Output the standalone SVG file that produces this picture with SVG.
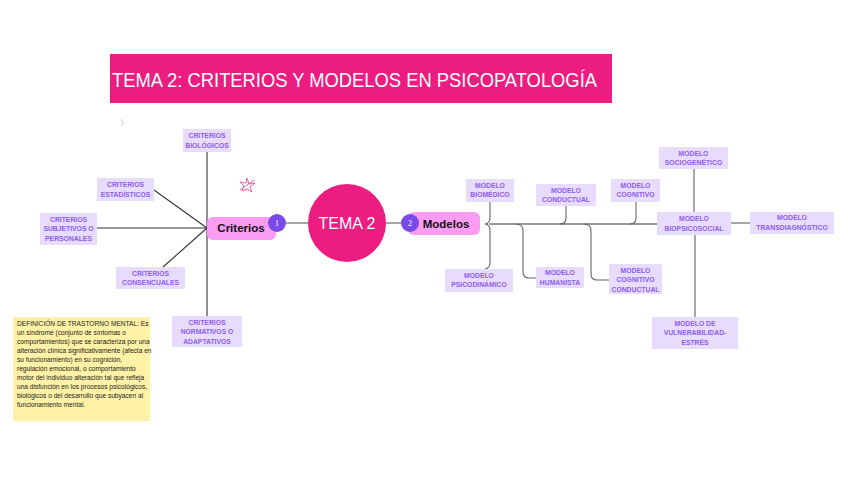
<svg xmlns="http://www.w3.org/2000/svg" width="848" height="477" viewBox="0 0 848 477">
<style>
.box{fill:#e8dcfc}
.bt{font-family:"Liberation Sans",Arial,sans-serif;font-weight:bold;font-size:6.8px;fill:#8d5cf0;text-anchor:middle}
.dk{fill:none;stroke:#333;stroke-width:1.1}
.gr{fill:none;stroke:#666;stroke-width:1.1}
.lg{fill:none;stroke:#8a8a8a;stroke-width:1.5}
.badge{fill:#7a4ae8}
.bn{font-family:"Liberation Serif",serif;font-size:8px;fill:#fff;text-anchor:middle}
.note{font-family:"Liberation Sans",Arial,sans-serif;font-size:6.6px;fill:#222}
</style>
<rect width="848" height="477" fill="#fff"/>
<g id="title">
<rect x="110" y="54" width="502" height="49" fill="#ec1c80"/>
<text x="112" y="87" font-family="Liberation Sans,Arial,sans-serif" font-size="20" fill="#fff" textLength="485" lengthAdjust="spacingAndGlyphs">TEMA 2: CRITERIOS Y MODELOS EN PSICOPATOLOGÍA</text>
</g>
<g id="marks">
<circle cx="122" cy="120" r="0.6" fill="#777"/><circle cx="123" cy="123" r="0.6" fill="#777"/><circle cx="122" cy="125" r="0.5" fill="#999"/>
<path d="M247,178 L249,184 L255,183 L250,187 L252,192 L247,189 L242,191 L244,186 L240,182 L246,183 Z M240,190 L254,180" fill="none" stroke="#f0509a" stroke-width="0.9"/>
</g>
<g id="connectors">
<line class="dk" x1="207" y1="152" x2="207" y2="316"/>
<line class="dk" x1="207" y1="228" x2="154" y2="190"/>
<line class="dk" x1="207" y1="228" x2="97" y2="228"/>
<line class="dk" x1="207" y1="228" x2="163" y2="267"/>
<line class="lg" x1="286" y1="223" x2="308" y2="223"/>
<line class="lg" x1="386" y1="223" x2="402" y2="223"/>
<line class="dk" x1="489" y1="224" x2="657" y2="224"/>
<path class="gr" d="M490,202 V218 Q490,223 485,224 Q490,225 490,230 V263 Q490,268 485,269"/>
<path class="gr" d="M566,206 V218 Q566,224 560,224"/>
<path class="gr" d="M636,202 V218 Q636,224 630,224"/>
<path class="gr" d="M516,224 Q523,224 523,231 V272 Q523,278 529,278 H536"/>
<path class="gr" d="M584,224 Q591,224 591,231 V274 Q591,280 597,280 H609"/>
<line class="lg" x1="694" y1="169" x2="694" y2="212"/>
<line class="lg" x1="731" y1="223" x2="750" y2="223"/>
<line class="lg" x1="695" y1="235" x2="695" y2="317"/>
</g>
<g id="tema2">
<circle cx="347" cy="223" r="39" fill="#ec1c80"/>
<text x="347" y="229" font-family="Liberation Sans,Arial,sans-serif" font-size="16" fill="#fff" text-anchor="middle">TEMA 2</text>
</g>
<g id="criterios">
<rect x="207" y="217" width="69" height="23" rx="6" fill="#fa9cf2"/>
<text x="241" y="232" font-family="Liberation Sans,Arial,sans-serif" font-weight="bold" font-size="11.5" fill="#111" text-anchor="middle">Criterios</text>
<circle class="badge" cx="277" cy="223" r="9"/>
<text class="bn" x="277" y="226">1</text>
</g>
<g id="modelos">
<rect x="408" y="212" width="72" height="23" rx="6" fill="#fa9cf2"/>
<text x="446" y="228" font-family="Liberation Sans,Arial,sans-serif" font-weight="bold" font-size="11.5" fill="#111" text-anchor="middle">Modelos</text>
<circle class="badge" cx="410" cy="223" r="9"/>
<text class="bn" x="410" y="226">2</text>
</g>
<g id="c-biologicos"><rect class="box" x="183" y="129" width="48" height="23"/><text class="bt" x="207" y="138">CRITERIOS</text><text class="bt" x="207" y="147.5">BIOLÓGICOS</text></g>
<g id="c-estadisticos"><rect class="box" x="97" y="178" width="57" height="23"/><text class="bt" x="125.5" y="187">CRITERIOS</text><text class="bt" x="125.5" y="196.5">ESTADÍSTICOS</text></g>
<g id="c-subjetivos"><rect class="box" x="40" y="213" width="57" height="32"/><text class="bt" x="68.5" y="221.5">CRITERIOS</text><text class="bt" x="68.5" y="231">SUBJETIVOS O</text><text class="bt" x="68.5" y="240.5">PERSONALES</text></g>
<g id="c-consensuales"><rect class="box" x="116" y="267" width="69" height="22"/><text class="bt" x="150.5" y="275.5">CRITERIOS</text><text class="bt" x="150.5" y="285">CONSENCUALES</text></g>
<g id="c-normativos"><rect class="box" x="172" y="316" width="70" height="31"/><text class="bt" x="207" y="324.5">CRITERIOS</text><text class="bt" x="207" y="334">NORMATIVOS O</text><text class="bt" x="207" y="343.5">ADAPTATIVOS</text></g>
<g id="nota">
<rect x="13" y="317" width="137" height="104" fill="#fff2a6"/>
<text class="note" x="17" y="326"><tspan x="17">DEFINICIÓN DE TRASTORNO MENTAL: Es</tspan><tspan x="17" dy="9">un síndrome (conjunto de síntomas o</tspan><tspan x="17" dy="9">comportamientos) que se caracteriza por una</tspan><tspan x="17" dy="9">alteración clínica significativamente (afecta en</tspan><tspan x="17" dy="9">su funcionamiento) en su cognición,</tspan><tspan x="17" dy="9">regulación emocional, o comportamiento</tspan><tspan x="17" dy="9">motor del individuo alteración tal que refleja</tspan><tspan x="17" dy="9">una disfunción en los procesos psicológicos,</tspan><tspan x="17" dy="9">biológicos o del desarrollo que subyacen al</tspan><tspan x="17" dy="9">funcionamiento mental.</tspan></text>
</g>
<g id="m-biomedico"><rect class="box" x="466" y="179" width="48" height="23"/><text class="bt" x="490" y="187.5">MODELO</text><text class="bt" x="490" y="197">BIOMÉDICO</text></g>
<g id="m-conductual"><rect class="box" x="536" y="184" width="60" height="22"/><text class="bt" x="566" y="192.5">MODELO</text><text class="bt" x="566" y="202">CONDUCTUAL</text></g>
<g id="m-cognitivo"><rect class="box" x="611" y="179" width="49" height="23"/><text class="bt" x="635.5" y="187.5">MODELO</text><text class="bt" x="635.5" y="197">COGNITIVO</text></g>
<g id="m-psicodinamico"><rect class="box" x="445" y="269" width="68" height="23"/><text class="bt" x="479" y="277.5">MODELO</text><text class="bt" x="479" y="287">PSICODINÁMICO</text></g>
<g id="m-humanista"><rect class="box" x="536" y="267" width="48" height="21"/><text class="bt" x="560" y="275">MODELO</text><text class="bt" x="560" y="284.5">HUMANISTA</text></g>
<g id="m-cognitivo-conductual"><rect class="box" x="609" y="264" width="53" height="30"/><text class="bt" x="635.5" y="272.5">MODELO</text><text class="bt" x="635.5" y="282">COGNITIVO</text><text class="bt" x="635.5" y="291.5">CONDUCTUAL</text></g>
<g id="m-biopsicosocial"><rect class="box" x="657" y="212" width="74" height="23"/><text class="bt" x="694" y="221">MODELO</text><text class="bt" x="694" y="230.5">BIOPSICOSOCIAL</text></g>
<g id="m-sociogenetico"><rect class="box" x="659" y="147" width="69" height="22"/><text class="bt" x="693.5" y="155.5">MODELO</text><text class="bt" x="693.5" y="165">SOCIOGENÉTICO</text></g>
<g id="m-transdiagnostico"><rect class="box" x="750" y="212" width="84" height="22"/><text class="bt" x="792" y="220">MODELO</text><text class="bt" x="792" y="229.5">TRANSDIAGNÓSTICO</text></g>
<g id="m-vulnerabilidad"><rect class="box" x="652" y="317" width="86" height="32"/><text class="bt" x="695" y="325.5">MODELO DE</text><text class="bt" x="695" y="335">VULNERABILIDAD-</text><text class="bt" x="695" y="344.5">ESTRÉS</text></g>
</svg>
